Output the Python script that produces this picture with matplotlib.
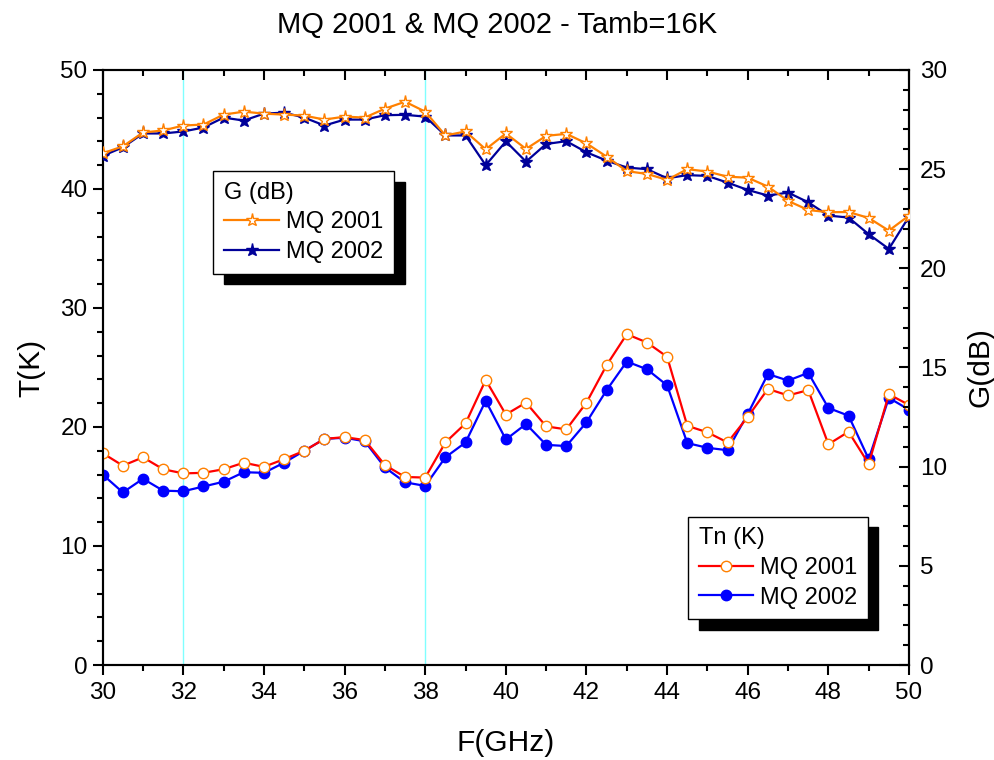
import matplotlib
matplotlib.use("Agg")
import matplotlib.pyplot as plt
from matplotlib.ticker import MultipleLocator

plt.rcParams['font.family'] = ['Liberation Sans', 'DejaVu Sans']

# frequency grid, 0.5 GHz step
freq = [30.0, 30.5, 31.0, 31.5, 32.0, 32.5, 33.0, 33.5, 34.0, 34.5,
        35.0, 35.5, 36.0, 36.5, 37.0, 37.5, 38.0, 38.5, 39.0, 39.5,
        40.0, 40.5, 41.0, 41.5, 42.0, 42.5, 43.0, 43.5, 44.0, 44.5,
        45.0, 45.5, 46.0, 46.5, 47.0, 47.5, 48.0, 48.5, 49.0, 49.5, 50.0]

# noise temperature (K)
tn_2001 = [17.8, 16.75, 17.45, 16.45, 16.1, 16.15, 16.45, 17.0, 16.65, 17.3,
           18.0, 19.0, 19.15, 18.9, 16.8, 15.8, 15.75, 18.7, 20.3, 23.95,
           21.05, 22.05, 20.05, 19.8, 22.05, 25.2, 27.8, 27.1, 25.9, 20.1,
           19.55, 18.7, 20.85, 23.2, 22.65, 23.1, 18.55, 19.6, 16.9, 22.75, 21.85]
tn_2002 = [16.0, 14.5, 15.65, 14.65, 14.6, 15.0, 15.4, 16.2, 16.15, 17.0,
           18.0, 19.0, 19.1, 18.8, 16.6, 15.35, 15.05, 17.45, 18.7, 22.2,
           18.95, 20.25, 18.5, 18.4, 20.4, 23.1, 25.5, 24.85, 23.5, 18.65,
           18.25, 18.05, 21.1, 24.45, 23.9, 24.55, 21.6, 20.95, 17.3, 22.45, 21.45]

# gain (dB)
g_2001 = [25.8, 26.15, 26.85, 26.95, 27.2, 27.25, 27.75, 27.9, 27.8, 27.75,
          27.7, 27.5, 27.65, 27.6, 28.05, 28.4, 27.9, 26.7, 26.9, 26.0,
          26.8, 26.02, 26.68, 26.78, 26.3, 25.63, 24.9, 24.76, 24.46, 25.0,
          24.88, 24.62, 24.57, 24.12, 23.4, 22.94, 22.83, 22.84, 22.54, 21.9, 22.66]
g_2002 = [25.67, 26.1, 26.8, 26.8, 26.9, 27.1, 27.6, 27.45, 27.8, 27.85,
          27.6, 27.2, 27.5, 27.5, 27.72, 27.74, 27.65, 26.7, 26.7, 25.2,
          26.4, 25.38, 26.27, 26.41, 25.85, 25.43, 25.08, 25.0, 24.54, 24.7,
          24.66, 24.32, 23.95, 23.67, 23.82, 23.33, 22.66, 22.56, 21.72, 20.98, 22.61]

marker_lines = [32, 38]

fig = plt.figure(figsize=(9.95, 7.6), dpi=100)
ax = fig.add_axes([0.1032, 0.125, 0.9136 - 0.1032, 0.9079 - 0.125])
ax2 = ax.twinx()

for xv in marker_lines:
    ax.axvline(xv, color='#80ffff', lw=1.0, zorder=1)

# Tn on left axis
l_t2, = ax.plot(freq, tn_2002, '-o', color='#0000ff', lw=1.6, ms=7.5,
                mfc='#0000ff', mec='#0000ff', label='MQ 2002', zorder=3)
l_t1, = ax.plot(freq, tn_2001, '-o', color='#ff0000', lw=1.6, ms=7.5,
                mfc='white', mec='#ff8000', mew=1.0, label='MQ 2001', zorder=4)

# G on right axis
l_g2, = ax2.plot(freq, g_2002, '-*', color='#000099', lw=1.6, ms=9.5,
                 mfc='#000099', mec='#000099', label='MQ 2002', zorder=3)
l_g1, = ax2.plot(freq, g_2001, '-*', color='#ff8000', lw=1.6, ms=9.5,
                 mfc='white', mec='#ff8000', mew=1.0, label='MQ 2001', zorder=4)

ax.set_xlim(30, 50)
ax.set_ylim(0, 50)
ax2.set_ylim(0, 30)

ax.xaxis.set_major_locator(MultipleLocator(2))
ax.xaxis.set_minor_locator(MultipleLocator(1))
ax.yaxis.set_major_locator(MultipleLocator(10))
ax.yaxis.set_minor_locator(MultipleLocator(2))
ax2.yaxis.set_major_locator(MultipleLocator(5))
ax2.yaxis.set_minor_locator(MultipleLocator(1))

for a in (ax, ax2):
    for s in a.spines.values():
        s.set_linewidth(1.5)

ax.tick_params(axis='x', which='both', direction='out', bottom=True, top=False,
               labelsize=17.5, width=1.5, pad=5)
ax.tick_params(axis='y', which='both', direction='out', left=True, right=False,
               labelsize=17.5, width=1.5, pad=4)
ax.tick_params(which='major', length=7)
ax.tick_params(which='minor', length=4)

# top ticks point inward, drawn by the twin axes
ax2.xaxis.set_visible(True)
ax2.tick_params(axis='x', which='both', direction='in', bottom=False, top=True,
                labelbottom=False, labeltop=False, width=1.5)
ax2.tick_params(axis='y', which='both', direction='in', right=True, left=False,
                labelsize=17.5, width=1.5, pad=8)
ax2.tick_params(which='major', length=7)
ax2.tick_params(which='minor', length=4)

ax.set_xlabel('F(GHz)', fontsize=21.5, labelpad=18)
ax.set_ylabel('T(K)', fontsize=21.5, labelpad=11)
ax2.set_ylabel('G(dB)', fontsize=21.5, labelpad=14)
fig.suptitle('MQ 2001 & MQ 2002 - Tamb=16K', fontsize=21, y=0.985)

shadow = {'ox': 7.5, 'oy': -7.5, 'facecolor': 'black', 'edgecolor': 'black', 'alpha': 1}

leg_g = ax2.legend(handles=[l_g1, l_g2], title='G (dB)', loc='upper left',
                   bbox_to_anchor=(0.137, 0.830), borderaxespad=0,
                   fontsize=17, title_fontsize=17,
                   alignment='left', fancybox=False, framealpha=1,
                   edgecolor='black', shadow=shadow, handlelength=2.35,
                   borderpad=0.45, labelspacing=0.32, handletextpad=0.3)
leg_g.get_frame().set_linewidth(1.0)

leg_t = ax.legend(handles=[l_t1, l_t2], title='Tn (K)', loc='upper left',
                  bbox_to_anchor=(0.726, 0.249), borderaxespad=0,
                  fontsize=17, title_fontsize=17,
                  alignment='left', fancybox=False, framealpha=1,
                  edgecolor='black', shadow=shadow, handlelength=2.3,
                  borderpad=0.45, labelspacing=0.32, handletextpad=0.3)
leg_t.get_frame().set_linewidth(1.0)

fig.savefig('out.png', dpi=100)
